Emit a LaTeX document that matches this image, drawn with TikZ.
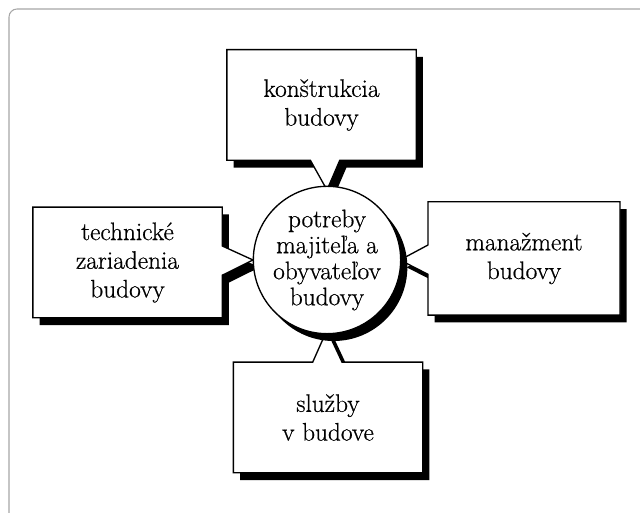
\documentclass[tikz,border=0pt]{standalone}
\usepackage{fontspec}
\newfontfamily\boxfont{Latin Modern Roman}[FakeBold=0.6]
\usetikzlibrary{shapes.callouts, shadows}

\begin{document}
\begin{tikzpicture}[
          x=0.75pt, y=-0.75pt,
          txt/.style={font=\boxfont\fontsize{19}{21.5}\selectfont, align=center},
          shade/.style={drop shadow={shadow xshift=5pt, shadow yshift=-5.5pt, opacity=1, fill=black}},
          box/.style={rectangle callout, draw, fill=white, line width=1pt, shade, txt,
                      minimum width=142pt, minimum height=83pt, inner sep=0pt,
                      callout pointer width=22pt},
          hub/.style={circle, draw, fill=white, line width=1pt, shade, txt,
                      font=\boxfont\fontsize{19}{19.5}\selectfont,
                      minimum size=108pt, inner sep=0pt}
        ]
        \useasboundingbox (0,0) rectangle (640,513);
        % card edge
        \draw[black!35, line width=0.8pt, rounded corners=6pt] (9,513) -- (9,9) -- (640,9);
        \coordinate (c) at (327,260);
        \path (c) +(0,-70) coordinate (cn) +(0,70) coordinate (cs)
              +(-74,0) coordinate (cw) +(73,0) coordinate (ce);
        \node[box, callout absolute pointer=(cn)] (kon) at (321.5,105) {konštrukcia\\budovy};
        \node[box, callout absolute pointer=(cw)] (tech) at (127.5,262.5) {technické\\zariadenia\\budovy};
        \node[box, callout absolute pointer=(ce), minimum width=144pt, minimum height=85pt] (man) at (524,258.5) {manažment\\budovy};
        \node[box, callout absolute pointer=(cs)] (slu) at (328,417.5) {služby\\v budove};
        \node[hub] (pot) at (c) {potreby\\majiteľa a\\obyvateľov\\budovy};
      \end{tikzpicture}
\end{document}
